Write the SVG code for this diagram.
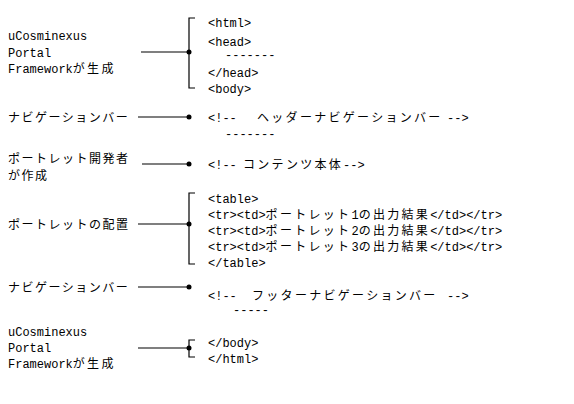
<svg xmlns="http://www.w3.org/2000/svg" width="574" height="404" viewBox="0 0 574 404">
<style>
.t { font-family: "Liberation Mono", "Noto Sans CJK JP", monospace; font-size: 12px; fill: #000; }
.j { letter-spacing: 2.3px; }
.jl { letter-spacing: 1.5px; }
.ln { stroke: #000; stroke-width: 1.2; fill: none; }
.dot { fill: #000; }
</style>
<rect width="574" height="404" fill="#fff"/>
<g id="n1">
  <text class="t" x="8" y="39.5">uCosminexus</text>
  <text class="t" x="8" y="56.5">Portal</text>
  <text class="t" x="8" y="72.5">Framework<tspan class="j">が生成</tspan></text>
  <text class="t" x="208" y="26.5">&lt;html&gt;</text>
  <text class="t" x="208" y="45.5">&lt;head&gt;</text>
  <text class="t" x="225" y="59">-------</text>
  <text class="t" x="208" y="76.5">&lt;/head&gt;</text>
  <text class="t" x="208" y="92.5">&lt;body&gt;</text>
</g>
<g id="n2">
  <text class="t jl" x="8" y="121.5">ナビゲーションバー</text>
  <text class="t" x="208" y="121.5">&lt;!--</text>
  <text class="t j" x="257" y="121.5">ヘッダーナビゲーションバー</text>
  <text class="t" x="447" y="121.5">--&gt;</text>
  <text class="t" x="225" y="138">-------</text>
</g>
<g id="n3">
  <text class="t jl" x="8" y="162.5">ポートレット開発者</text>
  <text class="t jl" x="8" y="179.5">が作成</text>
  <text class="t" x="208" y="168.5">&lt;!--</text>
  <text class="t" x="243" y="168.5"><tspan class="j">コンテンツ本体</tspan>--&gt;</text>
</g>
<g id="n4">
  <text class="t jl" x="8" y="228.5">ポートレットの配置</text>
  <text class="t" x="208" y="202.5">&lt;table&gt;</text>
  <text class="t" x="208" y="218.5">&lt;tr&gt;&lt;td&gt;<tspan class="j">ポートレット</tspan>1<tspan class="j">の出力結果</tspan>&lt;/td&gt;&lt;/tr&gt;</text>
  <text class="t" x="208" y="234.5">&lt;tr&gt;&lt;td&gt;<tspan class="j">ポートレット</tspan>2<tspan class="j">の出力結果</tspan>&lt;/td&gt;&lt;/tr&gt;</text>
  <text class="t" x="208" y="250.5">&lt;tr&gt;&lt;td&gt;<tspan class="j">ポートレット</tspan>3<tspan class="j">の出力結果</tspan>&lt;/td&gt;&lt;/tr&gt;</text>
  <text class="t" x="208" y="266.5">&lt;/table&gt;</text>
</g>
<g id="n5">
  <text class="t jl" x="8" y="291.5">ナビゲーションバー</text>
  <text class="t" x="208" y="299.5">&lt;!--</text>
  <text class="t j" x="252" y="299.5">フッターナビゲーションバー</text>
  <text class="t" x="447" y="299.5">--&gt;</text>
  <text class="t" x="233" y="314">-----</text>
</g>
<g id="n6">
  <text class="t" x="8" y="335.5">uCosminexus</text>
  <text class="t" x="8" y="351.5">Portal</text>
  <text class="t" x="8" y="367.5">Framework<tspan class="j">が生成</tspan></text>
  <text class="t" x="208" y="346.5">&lt;/body&gt;</text>
  <text class="t" x="208" y="362.5">&lt;/html&gt;</text>
</g>
<g id="connectors">
  <path class="ln" d="M141,52 H189"/>
  <path class="ln" d="M195,18 H189 V88 H195"/>
  <circle class="dot" cx="189" cy="52" r="2.5"/>
  <path class="ln" d="M138,117 H189"/>
  <circle class="dot" cx="189" cy="117" r="2.5"/>
  <path class="ln" d="M142,164 H189"/>
  <circle class="dot" cx="189" cy="164" r="2.5"/>
  <path class="ln" d="M138,224 H189"/>
  <path class="ln" d="M195,193 H189 V264 H195"/>
  <circle class="dot" cx="189" cy="224" r="2.5"/>
  <path class="ln" d="M138,287 H189"/>
  <circle class="dot" cx="189" cy="287" r="2.5"/>
  <path class="ln" d="M138,348 H189"/>
  <path class="ln" d="M195,340 H189 V357 H195"/>
  <circle class="dot" cx="189" cy="348" r="2.5"/>
</g>
</svg>
